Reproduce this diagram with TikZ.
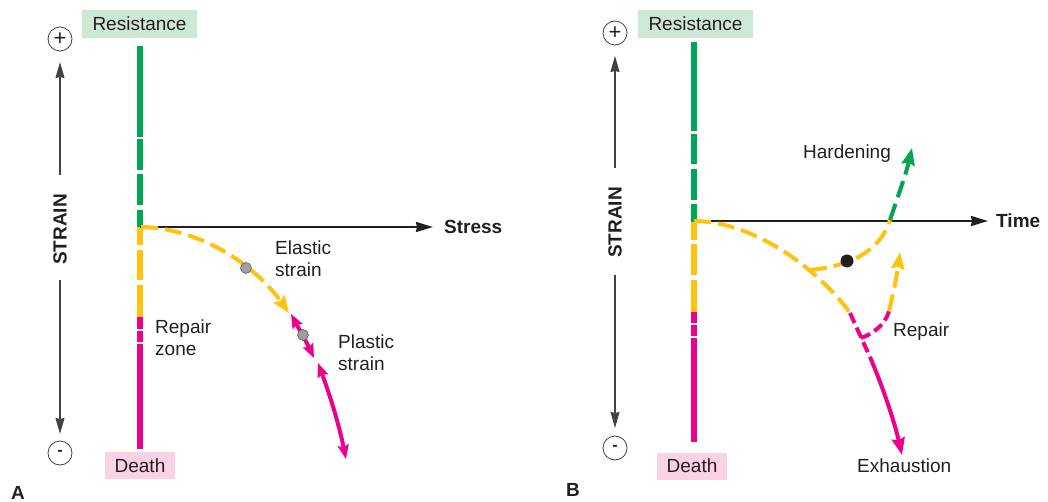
\documentclass[tikz,border=0pt]{standalone}
\usepackage{fontspec}
\setmainfont{Liberation Sans}
\usetikzlibrary{arrows.meta}
\definecolor{cgreen}{HTML}{00A651}
\definecolor{cyellow}{HTML}{FFC20E}
\definecolor{cmag}{HTML}{EC008C}
\definecolor{lgreen}{HTML}{CDE8D5}
\definecolor{lpink}{HTML}{F9D2E6}
\definecolor{ink}{HTML}{231F20}
\definecolor{dotgray}{HTML}{9D9FA2}
\begin{document}
\begin{tikzpicture}[x=1pt,y=-1pt,
  font=\fontsize{19}{22}\selectfont, text=ink,
  bar/.style={line width=6pt, line cap=butt},
  crv/.style={line width=4pt},
  dashy/.style={dash pattern=on 17pt off 7pt},
  tipend/.style={-{Stealth[length=17pt,width=13pt,inset=2pt]}},
  tipstart/.style={{Stealth[length=17pt,width=13pt,inset=2pt]}-},
  tipboth/.style={{Stealth[length=14pt,width=11pt,inset=2pt]}-{Stealth[length=14pt,width=11pt,inset=2pt]}},
  axis/.style={draw=ink, line width=2pt, -{Stealth[length=17pt,width=10pt,inset=1pt]}},
  saxis/.style={draw=ink!85, line width=1.1pt, -{Stealth[length=16pt,width=9pt,inset=1pt]}},
  pm/.style={circle, draw=ink!85, line width=0.8pt, minimum size=24pt, inner sep=0pt},
  resbox/.style={fill=lgreen, minimum width=115pt, minimum height=28pt, inner sep=0pt},
  deathbox/.style={fill=lpink, minimum width=70pt, minimum height=27pt, inner sep=0pt},
  lbl/.style={align=left, anchor=west, inner sep=0pt},
  gdot/.style={circle, fill=dotgray, draw=ink!70, line width=0.6pt, minimum size=11pt, inner sep=0pt},
]
\useasboundingbox (0,0) rectangle (1048,502);

%================ Panel A =================
\node[resbox] (resA) at (139.5,24) {Resistance};
\node[deathbox] (deathA) at (140,465.5) {Death};
\node[pm] (plusA) at (60,39) {\fontsize{22}{22}\selectfont +};
\node[pm] (minusA) at (60,453) {\fontsize{16}{16}\selectfont\bfseries -};
\node[rotate=90, font=\fontsize{19}{22}\selectfont\bfseries] (strainA) at (60,229.5) {STRAIN};
\coordinate (sAtop) at (60,175);
\coordinate (sAtip) at (60,62);
\coordinate (sAbot) at (60,280);
\coordinate (sAtip2) at (60,434);
\draw[saxis] (sAtop) -- (sAtip);
\draw[saxis] (sAbot) -- (sAtip2);

% bar A
\draw[bar, cgreen] (140,46) -- (140,137);
\draw[bar, cgreen] (140,139) -- (140,170);
\draw[bar, cgreen] (140,174) -- (140,205);
\draw[bar, cgreen] (140,210) -- (140,227);
\draw[bar, cyellow] (140,227) -- (140,245);
\draw[bar, cyellow] (140,250) -- (140,280);
\draw[bar, cyellow] (140,285) -- (140,317);
\draw[bar, cmag] (140,317) -- (140,329);
\draw[bar, cmag] (140,331) -- (140,342);
\draw[bar, cmag] (140,344) -- (140,449);

% stress axis
\coordinate (oA) at (140,227);
\node[font=\fontsize{19}{22}\selectfont\bfseries, anchor=west, inner sep=0pt] (stress) at (444,227) {Stress};
\draw[axis] (oA) -- (433,227);

% elastic curve
\coordinate (eA) at (289,313);
\draw[crv, cyellow, dashy, tipstart, tipend] (141,227) .. controls (200,228) and (255,265) .. (eA);
\node[gdot] (dotA1) at (246,268) {};
% plastic
\draw[crv, cmag, tipboth] (291,314) .. controls (299,329) and (307,343) .. (314,358);
\node[gdot] (dotA2) at (303,335) {};
\draw[crv, cmag, tipboth] (318,363) .. controls (328,390) and (338,420) .. (346,459);

\node[lbl] (elastic) at (275,258.5) {Elastic\\strain};
\node[lbl] (plastic) at (338,353) {Plastic\\strain};
\node[lbl] (repairzone) at (155,337.5) {Repair\\zone};
\node[font=\fontsize{19}{22}\selectfont\bfseries, inner sep=0pt] (labA) at (18,493) {A};

%================ Panel B =================
\node[resbox] (resB) at (695.5,24) {Resistance};
\node[deathbox] (deathB) at (692,466) {Death};
\node[pm] (plusB) at (615,33) {\fontsize{22}{22}\selectfont +};
\node[pm] (minusB) at (615,448) {\fontsize{16}{16}\selectfont\bfseries -};
\node[rotate=90, font=\fontsize{19}{22}\selectfont\bfseries] (strainB) at (615,222.5) {STRAIN};
\coordinate (sBtop) at (615,168);
\coordinate (sBtip) at (615,56);
\coordinate (sBbot) at (615,275);
\coordinate (sBtip2) at (615,428);
\draw[saxis] (sBtop) -- (sBtip);
\draw[saxis] (sBbot) -- (sBtip2);

% bar B
\draw[bar, cgreen] (694,42) -- (694,131);
\draw[bar, cgreen] (694,134) -- (694,164);
\draw[bar, cgreen] (694,169) -- (694,200);
\draw[bar, cgreen] (694,204) -- (694,222);
\draw[bar, cyellow] (694,222) -- (694,240);
\draw[bar, cyellow] (694,244) -- (694,275);
\draw[bar, cyellow] (694,280) -- (694,312);
\draw[bar, cmag] (694,312) -- (694,323);
\draw[bar, cmag] (694,325) -- (694,336);
\draw[bar, cmag] (694,338) -- (694,442);

% time axis
\coordinate (oB) at (694,221);
\node[font=\fontsize{19}{22}\selectfont\bfseries, anchor=west, inner sep=0pt] (time) at (996,221) {Time};
\draw[axis] (oB) -- (988,221);

% main curve
\coordinate (mB1) at (850,313);
\coordinate (mB2) at (870,357);
\coordinate (exB) at (902,455);
\draw[crv, cyellow, dashy] (oB) .. controls (750,221) and (815,265) .. (mB1);
\draw[crv, cmag, dash pattern=on 11pt off 5pt] (mB1) -- (mB2);
\draw[crv, cmag, tipend] (mB2) .. controls (882,385) and (894,420) .. (exB);

% hardening branch
\coordinate (hB0) at (810,270);
\coordinate (hB1) at (890,220);
\coordinate (hB2) at (912,148);
\draw[crv, cyellow, dashy] (hB0) .. controls (860,265) and (882,245) .. (hB1);
\draw[crv, cgreen, dashy, tipend] (hB1) .. controls (898,196) and (906,174) .. (hB2);
\node[circle, fill=ink, minimum size=13pt, inner sep=0pt] (dotB) at (847,261) {};

% repair branch
\coordinate (rB0) at (861,338);
\coordinate (rB1) at (889,311);
\coordinate (rB2) at (900,252);
\draw[crv, cmag, dash pattern=on 10pt off 5pt] (rB0) .. controls (877,332) and (886,322) .. (rB1);
\draw[crv, cyellow, dashy, tipend] (rB1) .. controls (893,295) and (897,275) .. (rB2);

\node[lbl] (hard) at (803,154) {Hardening};
\node[lbl] (repair) at (893,332) {Repair};
\node[lbl] (exh) at (857,466) {Exhaustion};
\node[font=\fontsize{19}{22}\selectfont\bfseries, inner sep=0pt] (labB) at (573,490) {B};
\end{tikzpicture}
\end{document}
